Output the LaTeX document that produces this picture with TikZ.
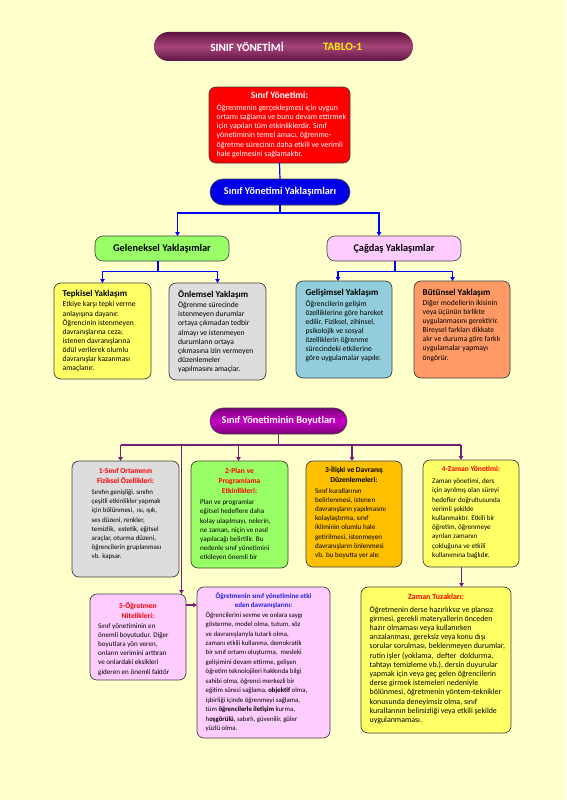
\documentclass[tikz,border=0pt]{standalone}
\usepackage{fontspec}
\setmainfont{Carlito}
\usetikzlibrary{arrows.meta,calc}
\definecolor{bgc}{HTML}{FFFFCC}
\definecolor{bord}{HTML}{3F3F3F}
\definecolor{tbdark}{HTML}{5E1440}
\definecolor{tblight}{HTML}{A8447C}
\definecolor{hdblue}{HTML}{0000E6}
\definecolor{blueln}{HTML}{0000FF}
\definecolor{purpln}{HTML}{781E78}
\definecolor{pdark}{HTML}{7A007A}
\definecolor{plight}{HTML}{C800C8}
\definecolor{grn}{HTML}{99FF66}
\definecolor{pnk}{HTML}{FFCCFF}
\definecolor{ylw}{HTML}{FFFF66}
\definecolor{gry}{HTML}{DDDDDD}
\definecolor{lblue}{HTML}{92CDDC}
\definecolor{orng}{HTML}{FF9966}
\definecolor{gold}{HTML}{FFC000}
\definecolor{tyel}{HTML}{FFEE00}
\definecolor{ttlblue}{HTML}{1F1FE0}
\newcommand\myfs[2]{\fontsize{#1}{#2}\selectfont}
\tikzset{
  bx/.style={draw=bord, line width=0.7pt, rounded corners=7pt, inner sep=0pt, outer sep=0pt},
  pillbox/.style={draw=bord, line width=0.6pt, inner sep=0pt, outer sep=0pt, font=\bfseries\myfs{10.3}{12}},
  bodytxt/.style={anchor=north west, inner sep=0pt, align=left, font=\myfs{7.6}{9.1}},
  dimtxt/.style={anchor=north west, inner sep=0pt, align=left, font=\myfs{7.1}{9.2}},
  apttl/.style={anchor=north west, inner sep=0pt, font=\bfseries\myfs{9}{10}},
  boxttl/.style={anchor=north, inner sep=0pt, align=center, font=\bfseries\myfs{7.5}{10}, text=red},
  bl/.style={draw=blueln, line width=1.2pt},
  pl/.style={draw=purpln, line width=1.1pt},
  arr/.style={-{Triangle[length=4pt,width=4.5pt]}}
}
\begin{document}
\begin{tikzpicture}[x=1pt,y=-1pt]
\fill[bgc] (0,0) rectangle (566,800);
\useasboundingbox (0,0) rectangle (566,800);

% title bar
\node[rounded corners=14.5pt, minimum width=259pt, minimum height=29pt, inner sep=0pt,
  top color=tbdark, bottom color=tbdark, middle color=tblight] (tbar) at (283.5,46.5) {};
\node[font=\bfseries\myfs{11.2}{13}, text=white, inner sep=0pt] (tbt1) at (247,46.5) {SINIF YÖNETİMİ};
\node[font=\bfseries\myfs{11.2}{13}, text=tyel, inner sep=0pt] (tbt2) at (342.5,46.5) {TABLO-1};

% red box
\node[bx, fill=red, minimum width=141pt, minimum height=76pt] (sy) at (279.5,125) {};
\node[anchor=north, inner sep=0pt, font=\bfseries\myfs{9.6}{11}, text=white] (syt) at (279.5,91.5) {Sınıf Yönetimi:};
\node[bodytxt, text=white, font=\myfs{7.9}{9.3}] (syb) at (216.5,103.5) {Öğrenmenin gerçekleşmesi için uygun\\ortamı sağlama ve bunu devam ettirmek\\için yapılan tüm etkinliklerdir. Sınıf\\yönetiminin temel amacı, öğrenme-\\öğretme sürecinin daha etkili ve verimli\\hale gelmesini sağlamaktır.};

% approaches header
\node[pillbox, fill=hdblue, text=white, rounded corners=13pt, minimum width=140pt, minimum height=26pt] (yak) at (280,192) {Sınıf Yönetimi Yaklaşımları};
\node[pillbox, fill=grn, rounded corners=8pt, minimum width=134pt, minimum height=25pt] (gel) at (162,248.5) {Geleneksel Yaklaşımlar};
\node[pillbox, fill=pnk, rounded corners=8pt, minimum width=134pt, minimum height=25pt] (cag) at (394,248.5) {Çağdaş Yaklaşımlar};

% four approach boxes
\node[bx, fill=ylw, minimum width=97pt, minimum height=96pt] (tep) at (102.5,331) {};
\node[apttl] (tept) at (62.5,290) {Tepkisel Yaklaşım};
\node[bodytxt] (tepb) at (62.5,301.5) {Etkiye karşı tepki verme\\anlayışına dayanır.\\Öğrencinin istenmeyen\\davranışlarına ceza;\\istenen davranışlarına\\ödül verilerek olumlu\\davranışlar kazanması\\amaçlanır.};

\node[bx, fill=gry, minimum width=97pt, minimum height=97pt] (onl) at (217.5,331.5) {};
\node[apttl] (onlt) at (178,290) {Önlemsel Yaklaşım};
\node[bodytxt] (onlb) at (178,301.5) {Öğrenme sürecinde\\istenmeyen durumlar\\ortaya çıkmadan tedbir\\almayı ve istenmeyen\\durumların ortaya\\çıkmasına izin vermeyen\\düzenlemeler\\yapılmasını amaçlar.};

\node[bx, fill=lblue, minimum width=96pt, minimum height=97pt] (gls) at (344,329.5) {};
\node[apttl] (glst) at (305.5,289) {Gelişimsel Yaklaşım};
\node[bodytxt] (glsb) at (305.5,300) {Öğrencilerin gelişim\\özelliklerine göre hareket\\edilir. Fiziksel, zihinsel,\\psikolojik ve sosyal\\özelliklerin öğrenme\\sürecindeki etkilerine\\göre uygulamalar yapılır.};

\node[bx, fill=orng, minimum width=96pt, minimum height=97pt] (but) at (462,329.5) {};
\node[apttl] (butt) at (422.5,289) {Bütünsel Yaklaşım};
\node[bodytxt] (butb) at (422.5,300) {Diğer modellerin ikisinin\\veya üçünün birlikte\\uygulanmasını gerektirir.\\Bireysel farkları dikkate\\alır ve duruma göre farklı\\uygulamalar yapmayı\\öngörür.};

% blue connectors
\draw[bl] (sy.south) -- (yak.north);
\coordinate (j1) at (280,213);
\draw[bl] (yak.south) -- (j1);
\draw[bl,arr] (j1) -| ([xshift=15.5pt]gel.north);
\draw[bl,arr] (j1) -| ([xshift=-15pt]cag.north);
\coordinate (j2) at (158,271.5);
\draw[bl] (j2 |- gel.south) -- (j2);
\draw[bl,arr] (j2) -| (tep.north);
\draw[bl,arr] (j2) -| (onl.north);
\coordinate (j3) at (395,271.5);
\draw[bl] (j3 |- cag.south) -- (j3);
\draw[bl,arr] (j3) -| ([xshift=-6pt]gls.north);
\draw[bl,arr] (j3) -| ([xshift=-9.5pt]but.north);

% dimensions header
\node[pillbox, rounded corners=13pt, minimum width=137pt, minimum height=26pt, text=white,
  top color=pdark, bottom color=pdark, middle color=plight] (boy) at (278.5,421) {Sınıf Yönetiminin Boyutları};

% dimension boxes
\node[bx, fill=gry, minimum width=107pt, minimum height=116pt] (b1) at (125.5,519) {};
\node[boxttl] (b1t) at (125.5,468.5) {1-Sınıf Ortamının\\Fiziksel Özellikleri:};
\node[dimtxt, font=\myfs{6.9}{9.2}] (b1b) at (91.5,489.5) {Sınıfın genişliği, sınıfın\\çeşitli etkinlikler yapmak\\için bölünmesi,\ \ ısı, ışık,\\ses düzeni, renkler,\\temizlik,\ \ estetik, eğitsel\\araçlar, oturma düzeni,\\öğrencilerin gruplanması\\vb. kapsar.};

\node[bx, fill=grn, minimum width=97pt, minimum height=107pt] (b2) at (239.5,514.5) {};
\node[boxttl] (b2t) at (239.5,468.5) {2-Plan ve\\Programlama\\Etkinlikleri:};
\node[dimtxt] (b2b) at (200,499.5) {Plan ve programlar\\eğitsel hedeflere daha\\kolay ulaşılmayı, nelerin,\\ne zaman, niçin ve nasıl\\yapılacağı belirtilir. Bu\\nedenle sınıf yönetimini\\etkileyen önemli bir};

\node[bx, fill=gold, minimum width=96pt, minimum height=106pt] (b3) at (354,514) {};
\node[boxttl, text=black] (b3t) at (354,466.5) {3-İlişki ve Davranış\\Düzenlemeleri:};
\node[dimtxt] (b3b) at (315,488) {Sınıf kurallarının\\belirlenmesi, istenen\\davranışların yapılmasını\\kolaylaştırma, sınıf\\ikliminin olumlu hale\\getirilmesi, istenmeyen\\davranışların önlenmesi\\vb. bu boyutta yer alır.};

\node[bx, fill=ylw, minimum width=96pt, minimum height=107pt] (b4) at (471,513.5) {};
\node[boxttl] (b4t) at (471,466.5) {4-Zaman Yönetimi:};
\node[dimtxt] (b4b) at (432,478.5) {Zaman yönetimi, ders\\için ayrılmış olan süreyi\\hedefler doğrultusunda\\verimli şekilde\\kullanmaktır. Etkili bir\\öğretim, öğrenmeye\\ayrılan zamanın\\çokluğuna ve etkili\\kullanımına bağlıdır.};

\node[bx, fill=pnk, minimum width=96pt, minimum height=86pt] (b5) at (138,637) {};
\node[boxttl] (b5t) at (138,602) {5-Öğretmen\\Nitelikleri:};
\node[dimtxt] (b5b) at (98,623) {Sınıf yönetiminin en\\önemli boyutudur. Diğer\\boyutlara yön veren,\\onların verimini arttıran\\ve onlardaki eksikleri\\gideren en önemli faktör};

\node[bx, fill=pnk, minimum width=133pt, minimum height=151pt] (mid) at (263.5,662.5) {};
\node[boxttl, text=ttlblue, font=\bfseries\myfs{7}{9}] (midt) at (263.5,592.5) {Öğretmenin sınıf yönetimine etki\\eden davranışlarını:};
\node[dimtxt, font=\myfs{6.8}{9.45}] (midb) at (205.5,611.5) {Öğrencilerini sevme ve onlara saygı\\gösterme, model olma, tutum, söz\\ve davranışlarıyla tutarlı olma,\\zamanı etkili kullanma, demokratik\\bir sınıf ortamı oluşturma,\ \ mesleki\\gelişimini devam ettirme, gelişen\\öğretim teknolojileri hakkında bilgi\\sahibi olma, öğrenci merkezli bir\\eğitim süreci sağlama, \textbf{objektif} olma,\\işbirliği içinde öğrenmeyi sağlama,\\tüm \textbf{öğrencilerle iletişim} kurma,\\h\textbf{oşgörülü}, sabırlı, güvenilir, güler\\yüzlü olma.};

\node[bx, fill=ylw, minimum width=150pt, minimum height=146pt] (zt) at (436,660) {};
\node[boxttl, font=\bfseries\myfs{8}{10}] (ztt) at (436,593.5) {Zaman Tuzakları:};
\node[dimtxt, font=\myfs{7.9}{9.2}] (ztb) at (369.5,605.5) {Öğretmenin derse hazırlıksız ve plansız\\girmesi, gerekli materyallerin önceden\\hazır olmaması veya kullanırken\\arızalanması, gereksiz veya konu dışı\\sorular sorulması, beklenmeyen durumlar,\\rutin işler (yoklama,\ \ defter\ \ doldurma,\\tahtayı temizleme vb.), dersin duyurular\\yapmak için veya geç gelen öğrencilerin\\derse girmek istemeleri nedeniyle\\bölünmesi, öğretmenin yöntem-teknikler\\konusunda deneyimsiz olma, sınıf\\kurallarının belirsizliği veya etkili şekilde\\uygulanmaması.};

% purple connectors
\coordinate (j4) at (278.5,445);
\draw[pl] (boy.south) -- (j4);
\coordinate (h1) at (120.5,445);
\coordinate (h5) at (181.5,445);
\coordinate (h2) at (238.5,445);
\coordinate (h3) at (352,445);
\coordinate (h4) at (461,445);
\draw[pl] (h1) -- (h4);
\draw[pl,arr] (h1) -- (h1 |- b1.north);
\draw[pl,arr] (h2) -- (h2 |- b2.north);
\draw[pl,arr] (h3) -- (h3 |- b3.north);
\draw[pl,arr] (h4) -- (h4 |- b4.north);
\draw[pl,arr] (h5) -- (h5 |- b5.north);
\draw[pl,arr] ([xshift=-9.5pt]b4.south) -- ([xshift=-9.5pt]b4.south |- zt.north);
\draw[pl,arr] ([yshift=32pt]b5.east) -- ([yshift=32pt]b5.east -| mid.west);
\end{tikzpicture}
\end{document}
